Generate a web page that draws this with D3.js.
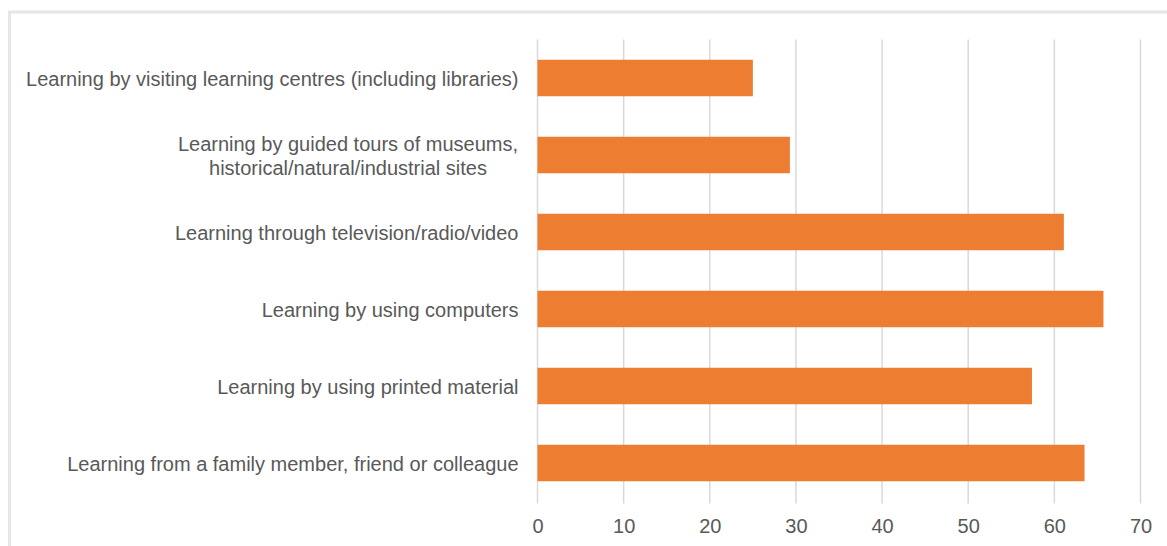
<!DOCTYPE html>
<html>
<head>
<meta charset="utf-8">
<script src="https://cdn.jsdelivr.net/npm/d3@7"></script>
<style>
html,body{margin:0;padding:0;background:#fff;}
svg{display:block;}
text{font-family:"Liberation Sans",Arial,sans-serif;}
</style>
</head>
<body>
<svg id="chart" width="1167" height="546"></svg>
<script>
const categories = [
  ["Learning by visiting learning centres (including libraries)"],
  ["Learning by guided tours of museums,", "historical/natural/industrial sites"],
  ["Learning through television/radio/video"],
  ["Learning by using computers"],
  ["Learning by using printed material"],
  ["Learning from a family member, friend or colleague"]
];
const values = [25, 29.3, 61.1, 65.7, 57.4, 63.5];
const tickValues = [0, 10, 20, 30, 40, 50, 60, 70];

const svg = d3.select("#chart");
const W = 1167, H = 546;
const margin = {left: 537.5, right: 26.5, top: 39.5, bottom: 44.5};
const fontSize = 20;

// frame
svg.append("rect").attr("x", 9.5).attr("y", 12).attr("width", 1200).attr("height", 600)
  .attr("fill", "none").attr("stroke", "#e6e6e6").attr("stroke-width", 3);

const keys = categories.map((c, i) => i);
const x = d3.scaleLinear().domain([0, 70]).range([margin.left, W - margin.right]);
const y = d3.scaleBand().domain(keys).range([margin.top, H - margin.bottom])
  .paddingInner(0.526).paddingOuter(0.263);

// gridlines
svg.append("g").selectAll("line").data(tickValues).join("line")
  .attr("x1", d => x(d)).attr("x2", d => x(d))
  .attr("y1", margin.top).attr("y2", H - margin.bottom + 2)
  .attr("stroke", "#d9d9d9").attr("stroke-width", 1.5);

// bars
svg.append("g").selectAll("rect").data(values).join("rect")
  .attr("x", x(0)).attr("y", (d, i) => y(i))
  .attr("width", d => x(d) - x(0)).attr("height", y.bandwidth())
  .attr("fill", "#ed7d31");

// x axis
const xAxis = d3.axisBottom(x).tickValues(tickValues).tickSize(0).tickPadding(0);
const gx = svg.append("g").attr("transform", `translate(0,${H - margin.bottom + 24})`).call(xAxis);
gx.select(".domain").remove();
gx.selectAll("text").attr("font-size", fontSize).attr("fill", "#595959")
  .attr("font-family", "'Liberation Sans', Arial, sans-serif").attr("dy", "0.35em").attr("y", 0);

// y labels
const lineH = 24;
const labelG = svg.append("g");
categories.forEach((lines, i) => {
  const cy = y(i) + y.bandwidth() / 2;
  const t = labelG.append("text")
    .attr("font-size", fontSize).attr("fill", "#595959");
  if (lines.length === 1) {
    t.attr("text-anchor", "end").attr("x", x(0) - 19).attr("y", cy + 1).attr("dy", "0.35em").text(lines[0]);
  } else {
    t.attr("text-anchor", "middle");
    lines.forEach((ln, j) => {
      t.append("tspan").attr("x", 348).attr("y", cy + 1 + (j - (lines.length - 1) / 2) * lineH)
        .attr("dy", "0.35em").text(ln);
    });
  }
});
</script>
</body>
</html>
